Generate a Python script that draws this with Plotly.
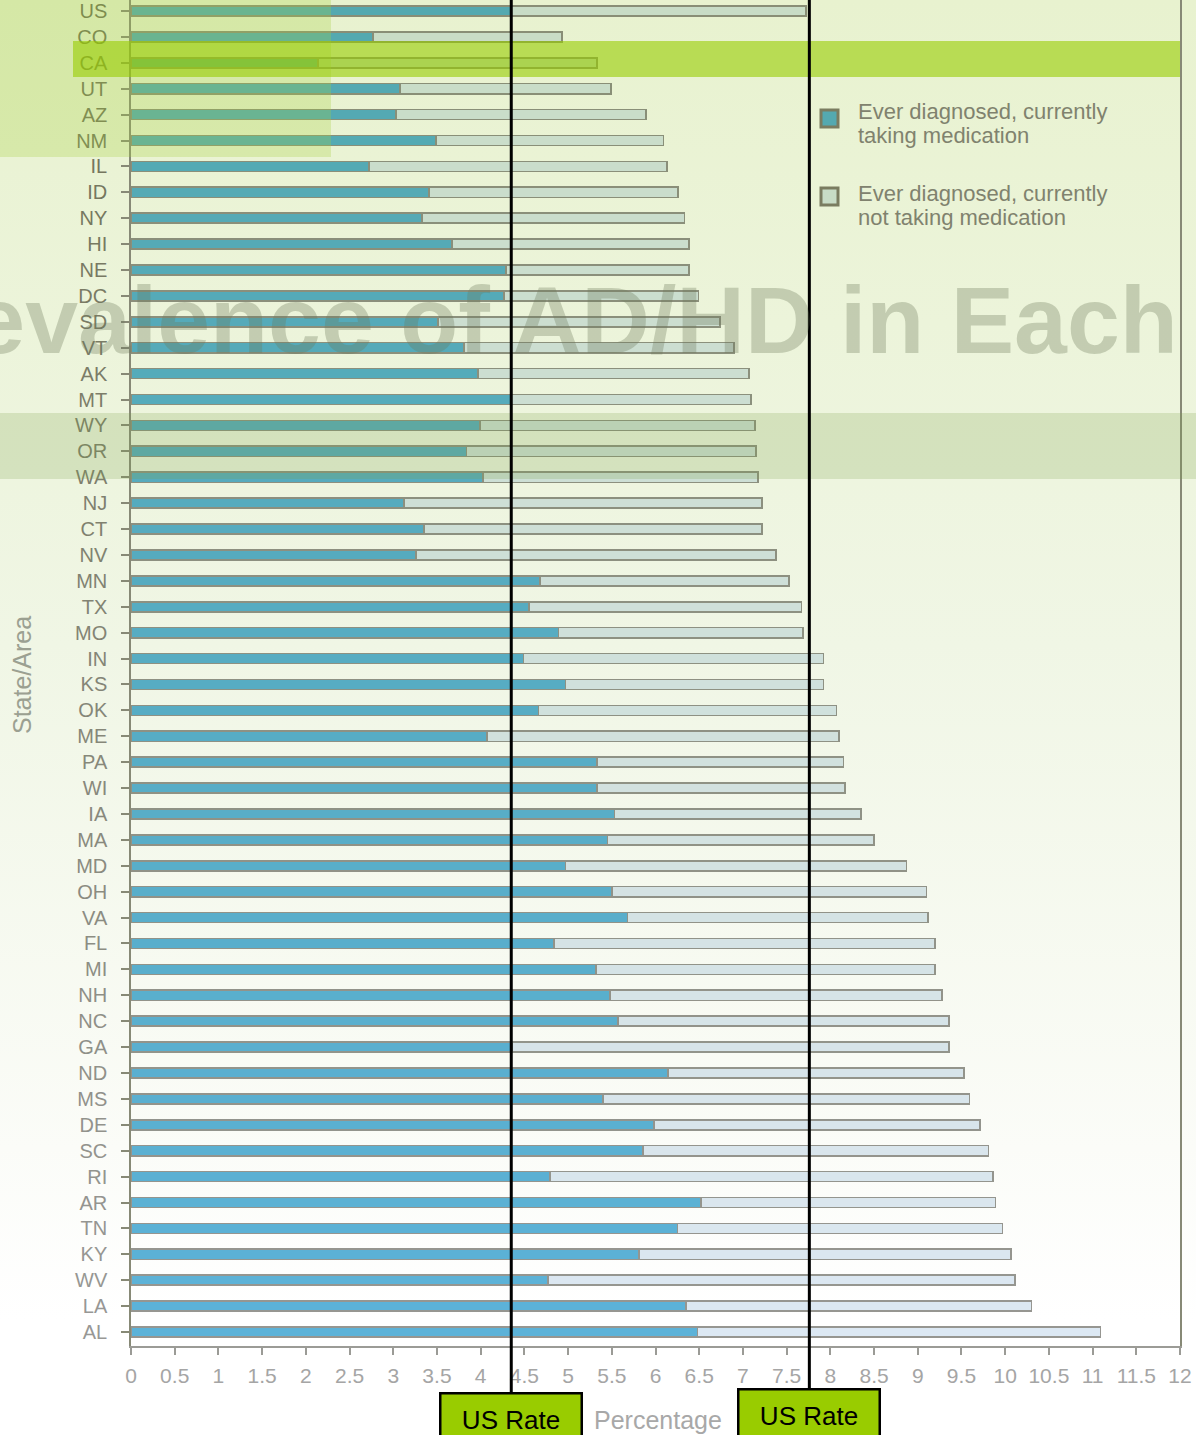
import base64
import plotly.graph_objects as go

# ---------------- data ----------------
states = ["US", "CO", "CA", "UT", "AZ", "NM", "IL", "ID", "NY", "HI", "NE", "DC", "SD",
          "VT", "AK", "MT", "WY", "OR", "WA", "NJ", "CT", "NV", "MN", "TX", "MO", "IN",
          "KS", "OK", "ME", "PA", "WI", "IA", "MA", "MD", "OH", "VA", "FL", "MI", "NH",
          "NC", "GA", "ND", "MS", "DE", "SC", "RI", "AR", "TN", "KY", "WV", "LA", "AL"]

taking_medication = [4.34, 2.77, 2.14, 3.08, 3.03, 3.49, 2.72, 3.41, 3.33, 3.67, 4.29, 4.27, 3.51,
                     3.81, 3.97, 4.34, 3.99, 3.84, 4.03, 3.12, 3.35, 3.26, 4.68, 4.55, 4.89, 4.49,
                     4.97, 4.66, 4.07, 5.33, 5.33, 5.53, 5.45, 4.97, 5.50, 5.68, 4.84, 5.32, 5.48,
                     5.57, 4.36, 6.14, 5.40, 5.98, 5.86, 4.79, 6.52, 6.25, 5.81, 4.77, 6.35, 6.48]

not_taking_medication = [3.38, 2.16, 3.19, 2.41, 2.86, 2.60, 3.41, 2.85, 3.00, 2.71, 2.09, 2.22, 3.23,
                         3.09, 3.10, 2.75, 3.15, 3.31, 3.14, 4.10, 3.87, 4.12, 2.85, 3.12, 2.80, 3.43,
                         2.95, 3.41, 4.03, 2.82, 2.84, 2.82, 3.05, 3.90, 3.60, 3.44, 4.36, 3.88, 3.80,
                         3.79, 5.00, 3.39, 4.19, 3.73, 3.95, 5.07, 3.37, 3.72, 4.26, 5.34, 3.95, 4.61]

us_rates = [4.35, 7.76]          # US rate: currently medicated, ever diagnosed

x_tick_values = [0, 0.5, 1, 1.5, 2, 2.5, 3, 3.5, 4, 4.5, 5, 5.5, 6, 6.5, 7, 7.5, 8, 8.5, 9,
                 9.5, 10, 10.5, 11, 11.5, 12]
x_tick_labels = ["0", "0.5", "1", "1.5", "2", "2.5", "3", "3.5", "4", "4.5", "5", "5.5", "6",
                 "6.5", "7", "7.5", "8", "8.5", "9", "9.5", "10", "10.5", "11", "11.5", "12"]

series_names = ["Ever diagnosed, currently taking medication",
                "Ever diagnosed, currently not taking medication"]
legend_lines = [["Ever diagnosed, currently", "taking medication"],
                ["Ever diagnosed, currently", "not taking medication"]]

# ---------------- geometry helpers ----------------
W, H = 1196, 1435
ML, MR, MT, MB = 131, 16, 0, 89
PW, PH = W - ML - MR, H - MT - MB


def fx(px):
    return (px - ML) / PW


def fy(py):
    return (H - MB - py) / PH


# ---------------- colour helpers (green wash fading to white) ----------------
bg_stops = [(0.0, (232, 242, 207)), (0.45, (240, 246, 229)), (0.8, (251, 252, 248)),
            (0.92, (255, 255, 255)), (1.0, (255, 255, 255))]


def bg_at(p):
    for (p0, c0), (p1, c1) in zip(bg_stops[:-1], bg_stops[1:]):
        if p <= p1:
            f = (p - p0) / (p1 - p0) if p1 > p0 else 0
            return tuple(c0[k] + (c1[k] - c0[k]) * f for k in range(3))
    return bg_stops[-1][1]


def tint(base, p):
    b = bg_at(p)
    return "rgb(%d,%d,%d)" % tuple(round(base[k] * b[k] / 255) for k in range(3))


n = len(states)
row_p = [0.008 + 0.92 * i / (n - 1) for i in range(n)]
blue_base, light_base, line_base = (92, 178, 216), (220, 232, 243), (150, 150, 145)
blue_cols = [tint(blue_base, p) for p in row_p]
light_cols = [tint(light_base, p) for p in row_p]
line_cols = [tint(line_base, p) for p in row_p]


def lerp_col(c0, c1, t):
    return "rgb(%d,%d,%d)" % tuple(round(c0[k] + (c1[k] - c0[k]) * t) for k in range(3))


label_cols = [lerp_col((112, 114, 86), (152, 152, 150), i / (n - 1)) for i in range(n)]
tick_text_y = ["<span style='color:%s'>%s</span>" % (c, s) for c, s in zip(label_cols, states)]

FONT = "Liberation Sans, Arial, Helvetica, sans-serif"

# ---------------- figure ----------------
fig = go.Figure()
fig.add_trace(go.Bar(
    y=states, x=taking_medication, orientation="h", name=series_names[0], width=0.39,
    marker=dict(color=blue_cols, line=dict(color=line_cols, width=1.6)),
))
fig.add_trace(go.Bar(
    y=states, x=not_taking_medication, orientation="h", name=series_names[1], width=0.39,
    marker=dict(color=light_cols, line=dict(color=line_cols, width=1.6)),
))

# gradient background image
svg = ("<svg xmlns='http://www.w3.org/2000/svg' width='100' height='100' preserveAspectRatio='none'>"
       "<defs><linearGradient id='g' x1='0' y1='0' x2='0' y2='1'>"
       "<stop offset='0' stop-color='#e8f2cf'/><stop offset='0.45' stop-color='#f0f6e5'/>"
       "<stop offset='0.8' stop-color='#fbfcf8'/><stop offset='0.92' stop-color='#ffffff'/>"
       "<stop offset='1' stop-color='#ffffff'/></linearGradient></defs>"
       "<rect width='100' height='100' fill='url(#g)'/></svg>")
src = "data:image/svg+xml;base64," + base64.b64encode(svg.encode()).decode()

shapes = [
    # green highlight block in the top-left corner
    dict(type="rect", xref="paper", yref="paper", x0=fx(0), x1=fx(331), y0=fy(157), y1=fy(0),
         fillcolor="rgba(165,208,60,0.28)", line_width=0, layer="above"),
    # bright CA band
    dict(type="rect", xref="paper", yref="paper", x0=fx(73), x1=fx(1180), y0=fy(77), y1=fy(41),
         fillcolor="rgba(152,205,0,0.6)", line_width=0, layer="above"),
    # darker band over WY / OR / WA
    dict(type="rect", xref="paper", yref="paper", x0=fx(0), x1=fx(1196), y0=fy(479), y1=fy(413),
         fillcolor="rgba(125,160,75,0.22)", line_width=0, layer="above"),
]
box_tops = [1392, 1388]
for r, top in zip(us_rates, box_tops):
    shapes.append(dict(type="line", xref="x", yref="paper", x0=r, x1=r, y0=fy(top), y1=1,
                       line=dict(color="black", width=3), layer="above"))

# legend swatches
legend_fill = [blue_cols[0], light_cols[0]]
legend_sw_top = [110, 188]
for col, top in zip(legend_fill, legend_sw_top):
    shapes.append(dict(type="rect", xref="paper", yref="paper", x0=fx(821), x1=fx(838),
                       y0=fy(top + 17), y1=fy(top), fillcolor=col,
                       line=dict(color="rgb(122,124,96)", width=3), layer="above"))

annotations = [
    dict(text="Prevalence of AD/HD in Each", xref="paper", yref="paper", x=fx(1180), y=fy(320),
         xanchor="right", yanchor="middle", showarrow=False,
         font=dict(family="Liberation Sans, Arial", size=95, weight="bold",
                   color="rgba(110,120,90,0.32)")),
    dict(text="State/Area", xref="paper", yref="paper", x=fx(22), y=fy(675), textangle=-90,
         xanchor="center", yanchor="middle", showarrow=False,
         font=dict(family=FONT, size=25, color="rgb(155,160,145)")),
    dict(text="Percentage", xref="paper", yref="paper", x=fx(658), y=fy(1420),
         xanchor="center", yanchor="middle", showarrow=False,
         font=dict(family=FONT, size=25, color="rgb(168,168,168)")),
]
legend_line_y = [[111, 136], [193, 218]]
for lines, ys in zip(legend_lines, legend_line_y):
    for txt, yy in zip(lines, ys):
        annotations.append(dict(text=txt, xref="paper", yref="paper", x=fx(856), y=fy(yy),
                                xanchor="left", yanchor="middle", showarrow=False,
                                font=dict(family=FONT, size=22, color="rgb(128,130,110)")))
for r, top in zip(us_rates, box_tops):
    annotations.append(dict(
        text="US Rate", xref="x", yref="paper", x=r, y=fy(top), xanchor="center", yanchor="top",
        showarrow=False, width=125, height=37, valign="middle", borderpad=7,
        bgcolor="#99cc00", bordercolor="black", borderwidth=2.5,
        font=dict(family=FONT, size=26, color="black")))

fig.update_layout(
    width=W, height=H, margin=dict(l=ML, r=MR, t=MT, b=MB, pad=0),
    paper_bgcolor="white", plot_bgcolor="rgba(0,0,0,0)",
    barmode="stack", bargap=0.6, showlegend=False,
    font=dict(family=FONT, color="rgb(150,150,150)"),
    images=[dict(source=src, xref="paper", yref="paper", x=fx(0), y=fy(0),
                 sizex=fx(W) - fx(0), sizey=fy(0) - fy(H), sizing="stretch",
                 xanchor="left", yanchor="top", layer="below")],
    shapes=shapes, annotations=annotations,
    xaxis=dict(range=[0, 12], tickmode="array", tickvals=x_tick_values, ticktext=x_tick_labels,
               showgrid=False, zeroline=False, showline=True, linecolor="rgb(155,155,150)",
               linewidth=1.5, ticks="outside", ticklen=7, tickwidth=1.5,
               tickcolor="rgb(155,155,150)", ticklabelstandoff=3,
               tickfont=dict(family=FONT, size=21, color="rgb(165,165,165)")),
    yaxis=dict(type="category", categoryorder="array", categoryarray=states,
               range=[51.54, -0.425], autorange=False,
               tickmode="array", tickvals=states, ticktext=tick_text_y,
               showgrid=False, zeroline=False, showline=True, mirror=True,
               linecolor="rgb(135,137,118)", linewidth=1.5, ticks="outside", ticklen=8,
               tickwidth=1.5, tickcolor="rgb(135,137,118)", ticklabelstandoff=10,
               tickfont=dict(family=FONT, size=20)),
)

fig.write_html("out.html", config={"displayModeBar": False},
               post_script="document.body.style.margin='0px';document.body.style.padding='0px';")
